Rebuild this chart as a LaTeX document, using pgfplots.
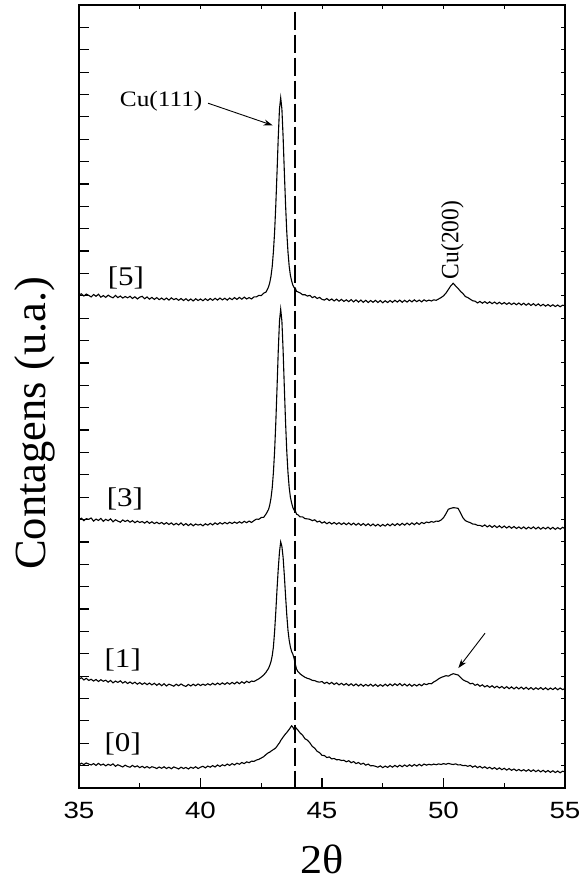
\documentclass[border=0pt]{standalone}
\usepackage{fontspec}
\setmainfont{Liberation Serif}
\setsansfont{Liberation Sans}
\usepackage{pgfplots}
\pgfplotsset{compat=1.18}
\usepackage{pgfplotstable}
\usetikzlibrary{arrows.meta}

% XRD scans, vertically offset; y in tick units
\pgfplotstableread{
x y0 y1 y3 y5
35.0 1.03 4.86 12.00 22.04
35.1 1.11 4.93 12.06 22.09
35.2 1.05 4.83 11.95 21.99
35.3 1.12 4.90 12.04 22.08
35.4 1.07 4.81 12.01 22.02
35.5 1.03 4.86 12.07 21.95
35.6 1.09 4.78 11.93 22.06
35.7 1.01 4.85 12.02 21.98
35.8 1.10 4.76 11.96 22.07
35.9 1.02 4.84 12.05 21.94
36.0 1.07 4.77 11.92 22.01
36.1 0.99 4.82 12.01 21.93
36.2 1.06 4.73 11.95 22.03
36.3 1.01 4.81 12.03 21.96
36.4 1.08 4.70 11.90 21.91
36.5 0.97 4.78 11.99 22.02
36.6 1.04 4.72 11.93 21.92
36.7 0.99 4.79 11.88 21.99
36.8 0.94 4.69 11.98 21.90
36.9 1.02 4.76 11.91 21.97
37.0 0.96 4.67 11.97 21.91
37.1 0.93 4.74 11.88 21.98
37.2 1.01 4.66 11.95 21.88
37.3 0.94 4.73 11.86 21.96
37.4 0.99 4.64 11.93 21.86
37.5 0.91 4.71 11.87 21.94
37.6 0.97 4.63 11.91 21.98
37.7 0.90 4.70 11.84 21.87
37.8 0.96 4.62 11.92 21.95
37.9 0.89 4.69 11.83 21.85
38.0 0.95 4.61 11.90 21.93
38.1 0.92 4.68 11.82 21.84
38.2 0.87 4.59 11.88 21.92
38.3 0.94 4.67 11.81 21.83
38.4 0.88 4.57 11.87 21.90
38.5 0.95 4.66 11.79 21.82
38.6 0.87 4.56 11.86 21.90
38.7 0.93 4.64 11.78 21.81
38.8 0.86 4.60 11.85 21.91
38.9 0.94 4.55 11.76 21.83
39.0 0.90 4.64 11.83 21.88
39.1 0.85 4.57 11.76 21.80
39.2 0.93 4.65 11.85 21.88
39.3 0.87 4.58 11.74 21.79
39.4 0.92 4.54 11.82 21.87
39.5 0.85 4.63 11.73 21.78
39.6 0.93 4.56 11.81 21.86
39.7 0.88 4.64 11.72 21.77
39.8 0.95 4.57 11.80 21.87
39.9 0.87 4.65 11.75 21.79
40.0 0.93 4.58 11.79 21.86
40.1 0.97 4.64 11.72 21.78
40.2 0.90 4.59 11.81 21.87
40.3 0.98 4.66 11.75 21.79
40.4 0.93 4.60 11.83 21.88
40.5 1.00 4.68 11.76 21.80
40.6 0.94 4.61 11.85 21.89
40.7 1.03 4.69 11.78 21.81
40.8 0.96 4.62 11.86 21.90
40.9 1.04 4.70 11.80 21.82
41.0 0.99 4.63 11.87 21.89
41.1 1.07 4.71 11.81 21.81
41.2 1.01 4.64 11.88 21.90
41.3 1.09 4.72 11.82 21.83
41.4 1.03 4.65 11.89 21.92
41.5 1.11 4.74 11.83 21.84
41.6 1.06 4.66 11.90 21.93
41.7 1.14 4.75 11.84 21.85
41.8 1.09 4.68 11.92 21.94
41.9 1.17 4.77 11.86 21.86
42.0 1.13 4.71 11.93 21.92
42.1 1.20 4.78 11.87 21.86
42.2 1.19 4.76 11.95 21.95
42.3 1.25 4.82 12.02 21.95
42.4 1.28 4.88 12.01 22.02
42.5 1.34 4.96 12.09 22.01
42.6 1.40 5.05 12.10 22.12
42.7 1.50 5.18 12.25 22.17
42.8 1.58 5.35 12.45 22.40
42.85 1.60 5.48 12.65 22.59
42.9 1.65 5.65 12.95 22.87
42.95 1.68 5.90 13.40 23.30
43.0 1.72 6.30 14.10 23.96
43.05 1.75 7.00 15.06 24.86
43.1 1.80 7.90 16.36 26.09
43.15 1.87 8.90 17.90 27.54
43.2 1.95 9.80 19.54 29.09
43.25 2.02 10.55 20.87 30.35
43.3 2.12 11.00 21.40 30.85
43.35 2.20 10.80 20.87 30.35
43.4 2.28 10.30 19.54 29.09
43.45 2.35 9.50 17.90 27.54
43.5 2.42 8.60 16.36 26.09
43.55 2.48 7.75 15.06 24.86
43.6 2.55 7.05 14.10 23.96
43.65 2.62 6.60 13.43 23.32
43.7 2.70 6.30 12.99 22.91
43.75 2.78 6.10 12.74 22.67
43.8 2.72 5.98 12.54 22.48
43.85 2.62 5.80 12.42 22.37
43.9 2.72 5.55 12.40 22.35
43.95 2.66 5.32 12.24 22.20
44.0 2.60 5.22 12.22 22.18
44.1 2.46 5.10 12.12 22.13
44.2 2.36 5.02 12.12 22.05
44.3 2.20 4.95 12.04 22.05
44.4 2.14 4.90 12.03 21.99
44.5 2.02 4.87 12.01 22.02
44.6 1.86 4.81 11.95 21.92
44.7 1.78 4.80 11.99 21.97
44.8 1.64 4.75 11.89 21.88
44.9 1.58 4.73 11.93 21.93
45.0 1.46 4.76 11.84 21.84
45.1 1.45 4.67 11.90 21.81
45.2 1.36 4.73 11.81 21.88
45.3 1.39 4.65 11.88 21.79
45.4 1.30 4.72 11.80 21.86
45.5 1.32 4.63 11.87 21.77
45.6 1.26 4.70 11.79 21.85
45.7 1.27 4.61 11.86 21.76
45.8 1.23 4.68 11.78 21.84
45.9 1.24 4.60 11.85 21.75
46.0 1.17 4.67 11.77 21.82
46.1 1.22 4.58 11.85 21.74
46.2 1.13 4.66 11.76 21.83
46.3 1.18 4.57 11.84 21.73
46.4 1.09 4.65 11.75 21.82
46.5 1.14 4.56 11.83 21.72
46.6 1.06 4.64 11.74 21.81
46.7 1.11 4.55 11.82 21.71
46.8 1.02 4.63 11.73 21.80
46.9 1.07 4.56 11.81 21.70
47.0 0.99 4.64 11.72 21.79
47.1 1.00 4.55 11.80 21.71
47.2 0.97 4.63 11.71 21.80
47.3 0.93 4.54 11.79 21.70
47.4 0.99 4.62 11.70 21.79
47.5 0.91 4.55 11.78 21.69
47.6 0.98 4.64 11.71 21.78
47.7 0.92 4.56 11.80 21.70
47.8 1.00 4.65 11.72 21.79
47.9 0.93 4.57 11.81 21.71
48.0 1.01 4.66 11.73 21.80
48.1 0.94 4.58 11.82 21.72
48.2 1.02 4.67 11.74 21.81
48.3 0.95 4.57 11.83 21.71
48.4 1.03 4.65 11.75 21.80
48.5 0.96 4.56 11.84 21.72
48.6 1.04 4.64 11.76 21.81
48.7 0.97 4.55 11.85 21.73
48.8 1.05 4.63 11.77 21.82
48.9 0.98 4.56 11.86 21.74
49.0 1.06 4.64 11.78 21.81
49.1 0.99 4.57 11.87 21.73
49.2 1.07 4.66 11.82 21.82
49.3 1.02 4.62 11.89 21.76
49.4 1.06 4.67 11.86 21.81
49.5 1.03 4.66 11.91 21.77
49.6 1.07 4.74 11.88 21.82
49.7 1.04 4.80 11.93 21.80
49.8 1.08 4.88 11.92 21.86
49.9 1.05 4.94 11.98 21.92
50.0 1.09 4.98 12.08 22.00
50.1 1.06 5.02 12.26 22.12
50.2 1.10 5.00 12.46 22.28
50.3 1.07 5.06 12.50 22.45
50.4 1.05 5.11 12.53 22.56
50.5 1.08 5.08 12.52 22.44
50.6 1.03 5.05 12.50 22.33
50.7 1.04 4.94 12.30 22.20
50.8 1.00 4.84 12.08 22.10
50.9 1.01 4.78 11.95 21.97
51.0 0.97 4.74 11.90 21.92
51.1 1.01 4.66 11.86 21.85
51.2 0.93 4.68 11.80 21.78
51.3 0.99 4.59 11.79 21.76
51.4 0.91 4.64 11.74 21.68
51.5 0.97 4.55 11.74 21.75
51.6 0.89 4.61 11.69 21.67
51.7 0.95 4.52 11.76 21.74
51.8 0.87 4.58 11.67 21.66
51.9 0.93 4.50 11.74 21.73
52.0 0.85 4.57 11.65 21.65
52.1 0.91 4.48 11.73 21.72
52.2 0.83 4.55 11.64 21.64
52.3 0.90 4.47 11.72 21.71
52.4 0.82 4.54 11.63 21.63
52.5 0.88 4.45 11.71 21.70
52.6 0.80 4.53 11.62 21.62
52.7 0.87 4.44 11.70 21.69
52.8 0.79 4.52 11.61 21.61
52.9 0.85 4.43 11.69 21.68
53.0 0.77 4.51 11.60 21.60
53.1 0.83 4.43 11.67 21.68
53.2 0.76 4.51 11.59 21.59
53.3 0.82 4.42 11.67 21.67
53.4 0.75 4.50 11.58 21.58
53.5 0.82 4.41 11.66 21.66
53.6 0.74 4.49 11.59 21.57
53.7 0.81 4.40 11.67 21.65
53.8 0.73 4.48 11.58 21.56
53.9 0.80 4.41 11.66 21.64
54.0 0.72 4.49 11.57 21.55
54.1 0.79 4.40 11.65 21.62
54.2 0.71 4.48 11.58 21.54
54.3 0.78 4.39 11.66 21.61
54.4 0.70 4.47 11.57 21.53
54.5 0.77 4.40 11.65 21.60
54.6 0.69 4.48 11.56 21.52
54.7 0.76 4.39 11.64 21.59
54.8 0.68 4.47 11.57 21.51
54.9 0.75 4.40 11.65 21.58
55.0 0.72 4.44 11.60 21.56
}\xrd

\begin{document}
\begin{tikzpicture}
\useasboundingbox (0,0) rectangle (581pt,881pt);
% short ticks on top and right
\begin{axis}[
  at={(79pt,93pt)}, anchor=south west,
  scale only axis, width=486pt, height=783pt,
  xmin=35, xmax=55, ymin=0, ymax=35,
  xtick={35,40,45,50,55}, minor x tick num=1,
  ytick={1,...,34},
  xticklabels={}, yticklabels={},
  xtick pos=right, ytick pos=right,
  tick align=inside,
  major tick length=4pt, minor tick length=4pt,
  every tick/.style={black, line width=1pt},
  axis line style={line width=1.5pt},
]
\end{axis}
\begin{axis}[
  at={(79pt,93pt)}, anchor=south west,
  scale only axis, width=486pt, height=783pt,
  xmin=35, xmax=55, ymin=0, ymax=35,
  xtick={35,40,45,50,55}, minor x tick num=1,
  ytick={1,...,34}, yticklabels={},
  xtick pos=left, ytick pos=left,
  tick align=inside,
  major tick length=10pt, minor tick length=5pt,
  every tick/.style={black, line width=1.2pt},
  axis line style={line width=1.5pt},
  /pgf/number format/assume math mode=true,
  xticklabel style={font=\sffamily\fontsize{23.5}{24}\selectfont,
    xscale=1.18, anchor=base, inner sep=0pt, yshift=-30.3pt},
]
\addplot[black, line width=1.1pt, mark=none] table[x=x, y=y0] {\xrd};
\addplot[black, line width=1.1pt, mark=none] table[x=x, y=y1] {\xrd};
\addplot[black, line width=1.1pt, mark=none] table[x=x, y=y3] {\xrd};
\addplot[black, line width=1.1pt, mark=none] table[x=x, y=y5] {\xrd};

% reference position
\draw[black, line width=2.4pt, dash pattern=on 18pt off 5pt]
  (axis cs:43.89,34.7) -- (axis cs:43.89,0);

% sample labels
\begin{scope}[every node/.style={font=\fontsize{27}{27}\selectfont, xscale=1.15, inner sep=0pt, anchor=base}]
\node at (axis cs:36.93,22.48) {[5]};
\node at (axis cs:36.89,12.57) {[3]};
\node at (axis cs:36.80,5.37) {[1]};
\node at (axis cs:36.80,1.645) {[0]};
\end{scope}

\node[font=\fontsize{22}{22}\selectfont, xscale=1.15, inner sep=0pt] at (axis cs:38.38,30.72) {Cu(111)};
\draw[-{Stealth[length=9pt,width=6pt]}, line width=0.9pt]
  (axis cs:40.31,30.61) -- (axis cs:42.97,29.62);
\node[font=\fontsize{23.5}{23.5}\selectfont, rotate=90, yscale=1.06, inner sep=0pt] at (axis cs:50.37,24.5) {Cu(200)};
\draw[-{Stealth[length=9pt,width=6pt]}, line width=0.9pt]
  (axis cs:51.71,6.92) -- (axis cs:50.61,5.36);
\end{axis}

% axis titles
\node[rotate=90, anchor=base, inner sep=0pt, font=\fontsize{44.5}{44.5}\selectfont] at (45pt,457.7pt) {Contagens (u.a.)};
\node[anchor=base, inner sep=0pt, xscale=1.08, font=\fontsize{41}{41}\selectfont] at (322pt,8pt) {2θ};
\end{tikzpicture}
\end{document}
